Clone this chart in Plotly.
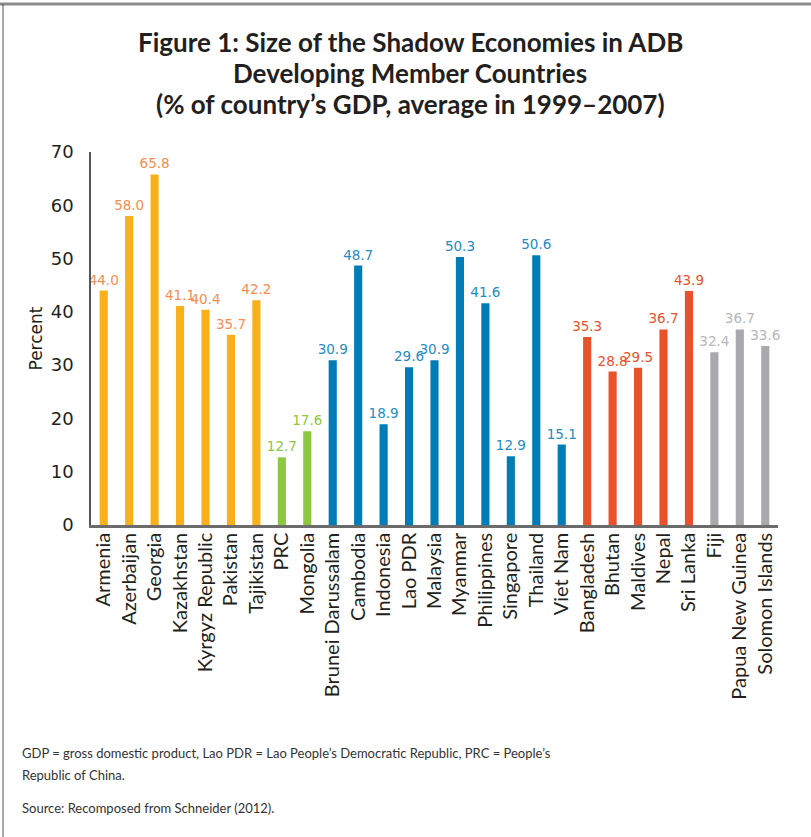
import plotly.graph_objects as go

countries = ["Armenia", "Azerbaijan", "Georgia", "Kazakhstan", "Kyrgyz Republic", "Pakistan",
             "Tajikistan", "PRC", "Mongolia", "Brunei Darussalam", "Cambodia", "Indonesia",
             "Lao PDR", "Malaysia", "Myanmar", "Philippines", "Singapore", "Thailand", "Viet Nam",
             "Bangladesh", "Bhutan", "Maldives", "Nepal", "Sri Lanka", "Fiji",
             "Papua New Guinea", "Solomon Islands"]
values = [44.0, 58.0, 65.8, 41.1, 40.4, 35.7, 42.2, 12.7, 17.6, 30.9, 48.7, 18.9, 29.6, 30.9,
          50.3, 41.6, 12.9, 50.6, 15.1, 35.3, 28.8, 29.5, 36.7, 43.9, 32.4, 36.7, 33.6]
groups = ["central"] * 7 + ["east"] * 2 + ["southeast"] * 10 + ["south"] * 5 + ["pacific"] * 3

bar_colors = {"central": "#F8B11A", "east": "#8DC63F", "southeast": "#007DB6",
              "south": "#E9512B", "pacific": "#A7A9AC"}
text_colors = {"central": "#F58D4E", "east": "#8DC63F", "southeast": "#238BC6",
               "south": "#E9512B", "pacific": "#B5B6B9"}

title_lines = ["Figure 1: Size of the Shadow Economies in ADB",
               "Developing Member Countries",
               "(% of country’s GDP, average in 1999–2007)"]
note1 = "GDP = gross domestic product, Lao PDR = Lao People’s Democratic Republic, PRC = People’s"
note2 = "Republic of China."
source = "Source: Recomposed from Schneider (2012)."

fig = go.Figure(go.Bar(
    x=countries, y=values,
    marker=dict(color=[bar_colors[g] for g in groups], line=dict(width=0)),
    text=[f"{v:.1f}" for v in values], textposition="outside",
    textfont=dict(family="DejaVu Sans", size=13.5, color=[text_colors[g] for g in groups]),
    constraintext="none", cliponaxis=False, width=0.32,
))

W, H = 811, 837
L, R, T, B = 91, 33, 152, 312
pw, ph = W - L - R, H - T - B

def px(x):
    return (x - L) / pw

def py(y):
    return 1 - (y - T) / ph

annotations = []
for line, yc in zip(title_lines, [42, 73, 104]):
    annotations.append(dict(text=f"<b>{line}</b>", xref="paper", yref="paper", x=px(410), y=py(yc),
                            xanchor="center", yanchor="middle", showarrow=False,
                            font=dict(family="Lato", size=26, color="#231F20")))
for line, yc in zip([note1, note2, source], [753, 775, 808]):
    annotations.append(dict(text=line, xref="paper", yref="paper", x=px(20), y=py(yc),
                            xanchor="left", yanchor="middle", showarrow=False, align="left",
                            font=dict(family="Lato", size=13, color="#333333")))

fig.update_layout(
    width=W, height=H, margin=dict(l=L, r=R, t=T, b=B),
    paper_bgcolor="white", plot_bgcolor="white", showlegend=False,
    xaxis=dict(showline=True, linecolor="#6B6B6B", linewidth=2.5, ticks="", tickangle=-90,
               tickfont=dict(family="Lato", size=20, color="#231F20"), showgrid=False,
               ticklabelstandoff=-3),
    yaxis=dict(range=[0, 70], dtick=10, showline=True, linecolor="#555555", linewidth=1.5,
               ticks="", showgrid=False, zeroline=False,
               tickfont=dict(family="DejaVu Sans", size=18, color="#231F20"),
               ticklabelstandoff=12,
               title=dict(text="Percent", font=dict(family="DejaVu Sans", size=17, color="#231F20"),
                          standoff=4)),
    shapes=[
        dict(type="line", xref="paper", yref="paper", x0=px(0), x1=px(W), y0=py(4), y1=py(4),
             line=dict(color="#8C8C8C", width=3)),
        dict(type="line", xref="paper", yref="paper", x0=px(3), x1=px(3), y0=py(4), y1=py(H),
             line=dict(color="#555555", width=1)),
    ],
    annotations=annotations,
)

fig.write_html("out.html", config={"displayModeBar": False},
               post_script="document.body.style.margin='0';")
